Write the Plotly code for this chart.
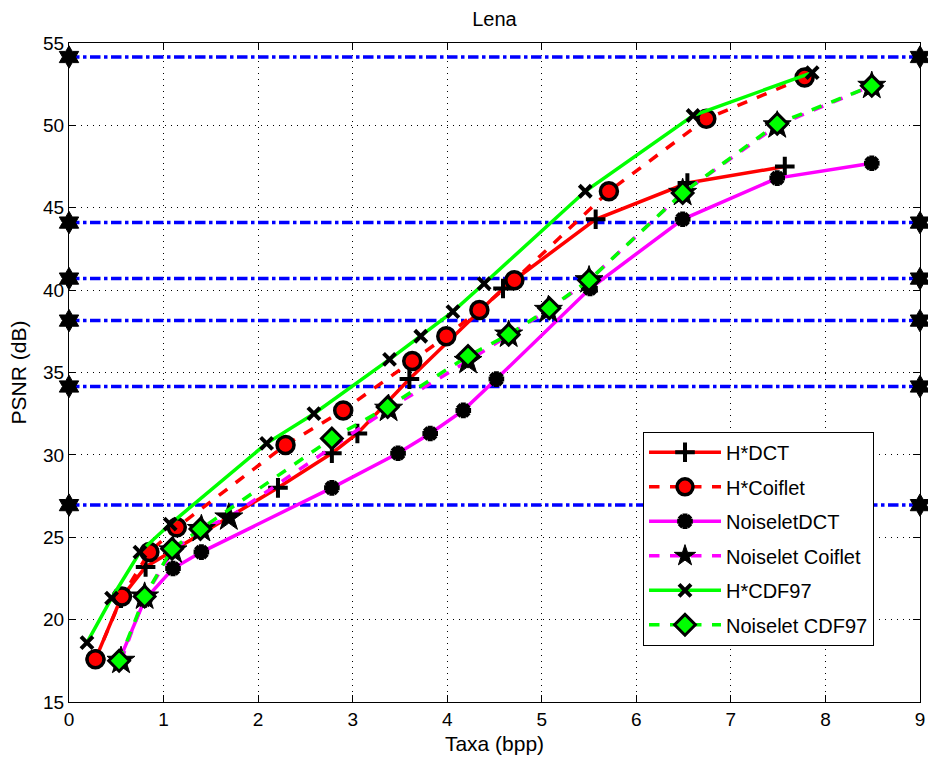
import plotly.graph_objects as go

# ---- data ----
hdct_x = [0.28, 0.55, 0.81, 2.21, 2.78, 3.05, 3.60, 4.59, 5.57, 6.54, 7.57]
hdct_y = [17.6, 21.3, 23.2, 28.0, 30.1, 31.3, 34.6, 40.1, 44.3, 46.5, 47.5]

hcoif_x = [0.28, 0.56, 0.85, 1.14, 2.29, 2.90, 3.63, 3.99, 4.34, 4.71, 5.71, 6.74, 7.78]
hcoif_y = [17.6, 21.4, 24.1, 25.6, 30.6, 32.7, 35.7, 37.2, 38.8, 40.6, 46.0, 50.4, 52.9]

ndct_x = [0.53, 0.80, 1.10, 1.40, 2.78, 3.48, 3.82, 4.17, 4.52, 5.51, 6.49, 7.49, 8.49]
ndct_y = [17.5, 21.2, 23.1, 24.1, 28.0, 30.1, 31.3, 32.7, 34.6, 40.1, 44.3, 46.8, 47.7]

ncoif_x = [0.55, 0.80, 1.10, 1.40, 1.69, 3.38, 4.22, 4.65, 5.07, 5.50, 6.49, 7.49, 8.49]
ncoif_y = [17.5, 21.4, 24.2, 25.5, 26.2, 32.8, 35.7, 37.3, 38.8, 40.6, 45.9, 50.0, 52.4]

hcdf_x = [0.19, 0.45, 0.75, 1.07, 2.09, 2.59, 3.39, 3.72, 4.06, 4.39, 5.46, 6.60, 7.86]
hcdf_y = [18.6, 21.3, 24.1, 25.8, 30.7, 32.5, 35.8, 37.2, 38.7, 40.4, 46.0, 50.6, 53.2]

ncdf_x = [0.53, 0.80, 1.09, 1.39, 2.78, 3.37, 4.22, 4.65, 5.08, 5.50, 6.49, 7.49, 8.49]
ncdf_y = [17.5, 21.4, 24.3, 25.5, 31.0, 32.9, 36.0, 37.3, 38.9, 40.6, 45.9, 50.1, 52.4]

ref_levels = [54.15, 44.1, 40.7, 38.15, 34.15, 26.95]
ref_x = [0, 9]

x_ticks = [0, 1, 2, 3, 4, 5, 6, 7, 8, 9]
y_ticks = [15, 20, 25, 30, 35, 40, 45, 50, 55]

fig = go.Figure()

for lv in ref_levels:
    fig.add_trace(go.Scatter(
        x=ref_x, y=[lv, lv], mode="lines+markers", showlegend=False,
        line=dict(color="#0000ff", width=3.5, dash="dashdot"),
        marker=dict(symbol="hexagram", size=17, color="black",
                    line=dict(color="black", width=1)),
        cliponaxis=False, hoverinfo="skip"))

def add(name, xs, ys, color, dash, symbol, size, fill, lw):
    fig.add_trace(go.Scatter(
        x=xs, y=ys, name=name, mode="lines+markers", legendgroup=name,
        line=dict(color=color, width=3.5, dash=dash),
        marker=dict(symbol=symbol, size=size, color=fill,
                    line=dict(color="black", width=lw)),
        cliponaxis=False))

add("H*DCT", hdct_x, hdct_y, "#ff0000", "solid", "cross-thin", 14, "black", 4)
add("H*Coiflet", hcoif_x, hcoif_y, "#ff0000", "dash", "circle", 17, "#ff0000", 3.5)
add("NoiseletDCT", ndct_x, ndct_y, "#ff00ff", "solid", "asterisk-open", 13, "black", 5)
add("Noiselet Coiflet", ncoif_x, ncoif_y, "#ff00ff", "dash", "star", 21, "black", 1)
add("H*CDF97", hcdf_x, hcdf_y, "#00ff00", "solid", "x-thin", 12, "black", 4)
add("Noiselet CDF97", ncdf_x, ncdf_y, "#00ff00", "dash", "diamond", 16, "#00ff00", 3)

font = "Liberation Sans, Arial, Helvetica, sans-serif"
axis_common = dict(
    showline=True, linecolor="black", linewidth=1, mirror="ticks",
    ticks="inside", ticklen=7, tickcolor="black",
    showgrid=True, gridcolor="black", gridwidth=1, griddash="1px,5px",
    zeroline=False, automargin=False,
    tickfont=dict(size=19, color="black", family=font),
)

fig.update_layout(
    width=928, height=762,
    paper_bgcolor="white", plot_bgcolor="white",
    margin=dict(l=69, r=8, t=43, b=60, autoexpand=False),
    title=dict(text="Lena", x=0.5, xref="paper", xanchor="center",
               y=1, yref="paper", yanchor="bottom", pad=dict(b=17),
               font=dict(size=20, color="black", family=font), automargin=False),
    font=dict(family=font, color="black"),
    xaxis=dict(range=[0, 9], tickvals=x_ticks, ticktext=[str(v) for v in x_ticks],
               title=dict(text="Taxa (bpp)", font=dict(size=21), standoff=7),
               **axis_common),
    yaxis=dict(range=[15, 55], tickvals=y_ticks, ticktext=[str(v) for v in y_ticks],
               title=dict(text="PSNR (dB)", font=dict(size=21), standoff=10),
               **axis_common),
    legend=dict(x=0.6745, y=0.41, xanchor="left", yanchor="top",
                bgcolor="white", bordercolor="black", borderwidth=1,
                font=dict(size=20, color="black", family=font),
                itemwidth=72, tracegroupgap=5.5,
                entrywidth=183, entrywidthmode="pixels"),
    showlegend=True,
)

fig.write_html("out.html", config={"displayModeBar": False},
               post_script="document.body.style.margin='0';")
